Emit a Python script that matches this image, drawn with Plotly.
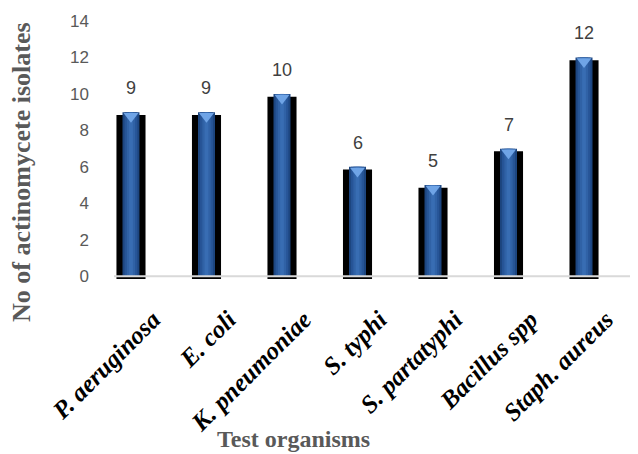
import plotly.graph_objects as go

organisms = ["P. aeruginosa", "E. coli", "K. pneumoniae", "S. typhi",
             "S. partatyphi", "Bacillus spp", "Staph. aureus"]
isolates = [9, 9, 10, 6, 5, 7, 12]
y_ticks = [0, 2, 4, 6, 8, 10, 12, 14]

x_idx = list(range(len(organisms)))
shadow_drop = 0.15

# page body has an 8px margin: figure is drawn starting at (8, 8)
OX, OY = 8, 8
W, H = 638 - OX, 454 - OY
L, R, T, B = 114 - OX, 0, 21 - OY, 454 - 279
plot_h = H - T - B
plot_w = W - L - R

fig = go.Figure()
# shadow (black) bar
fig.add_trace(go.Bar(x=x_idx, y=isolates, base=[-shadow_drop] * len(isolates),
                     width=0.385, marker=dict(color="black", line=dict(width=0)),
                     hoverinfo="skip"))
# blue layers simulating a horizontal gradient
for w, c in [(0.225, "#1d4680"), (0.17, "#275597"), (0.11, "#3062a6"), (0.05, "#386db3")]:
    fig.add_trace(go.Bar(x=x_idx, y=isolates, width=w,
                         marker=dict(color=c, line=dict(width=0)), hoverinfo="skip"))
# light bevel triangle at top of each bar
fig.add_trace(go.Scatter(x=x_idx, y=[v - 0.22 for v in isolates], mode="markers",
                         marker=dict(symbol="triangle-down", size=13, color="#6fa4e6",
                                     line=dict(width=0)),
                         hoverinfo="skip"))

# value labels
for xi, v in zip(x_idx, isolates):
    fig.add_annotation(x=xi, y=v, text=str(v), showarrow=False, yanchor="middle",
                       yshift=24, font=dict(family="Liberation Sans", size=18, color="#404040"))

# baseline
fig.add_shape(type="line", xref="paper", yref="y", x0=0, x1=1, y0=0, y1=0,
              line=dict(color="#d9d9d9", width=2))

# axis titles (positions in page pixels converted to paper coords)
def px_to_paper(px, py):
    return ((px - OX) - L) / plot_w, ((H - B) - (py - OY)) / plot_h

tx, ty = px_to_paper(293, 439)
fig.add_annotation(xref="paper", yref="paper", x=tx, y=ty,
                   text="<b>Test organisms</b>", showarrow=False, xanchor="center", yanchor="middle",
                   font=dict(family="Liberation Serif", size=24, color="#595959"))
yx, yy = px_to_paper(22, 172)
fig.add_annotation(xref="paper", yref="paper", x=yx, y=yy, textangle=-90,
                   text="<b>No of actinomycete isolates</b>", showarrow=False,
                   xanchor="center", yanchor="middle",
                   font=dict(family="Liberation Serif", size=26, color="#595959"))

fig.update_layout(
    width=W, height=H, showlegend=False, barmode="overlay",
    plot_bgcolor="white", paper_bgcolor="white",
    margin=dict(l=L, r=R, t=T, b=B, autoexpand=False),
    xaxis=dict(range=[-0.225, 6.715], tickmode="array", tickvals=x_idx,
               ticktext=["<b><i>%s</i></b>" % o for o in organisms],
               tickangle=-45, showline=False, showgrid=False, ticks="",
               ticklabelshift=22, ticklabelstandoff=20, automargin=False,
               tickfont=dict(family="Liberation Serif", size=25, color="black")),
    yaxis=dict(range=[-shadow_drop, 14], tickmode="array", tickvals=y_ticks,
               showgrid=False, showline=False, zeroline=False, ticks="",
               ticklabelstandoff=24, automargin=False,
               tickfont=dict(family="Liberation Sans", size=17, color="#595959")),
)

fig.write_html("out.html")
